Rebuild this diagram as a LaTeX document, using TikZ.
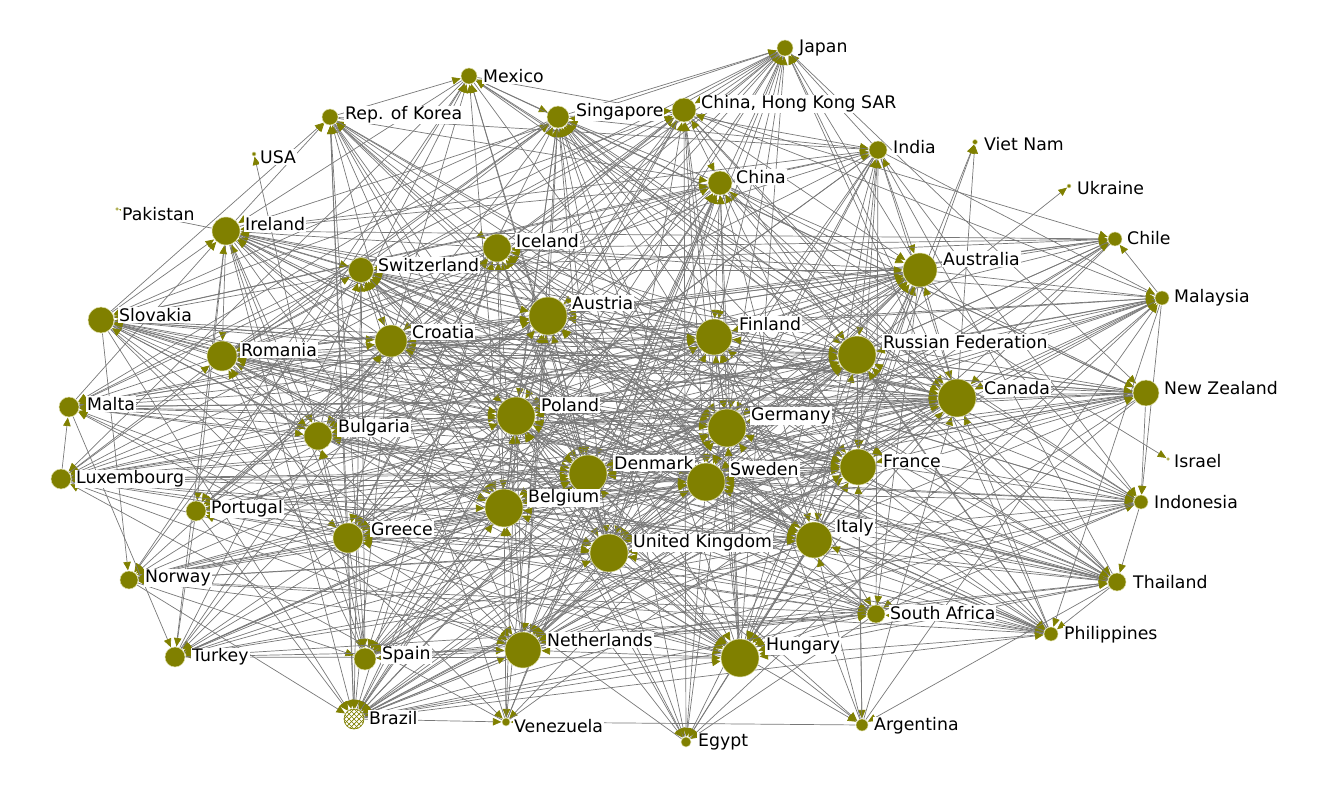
\documentclass[tikz,border=0pt]{standalone}
\usepackage{fontspec}
\setmainfont{DejaVu Sans}
\usetikzlibrary{arrows.meta}
\definecolor{nodecol}{RGB}{128,128,0}
\definecolor{edgecol}{RGB}{120,120,120}
\definecolor{ringcol}{RGB}{222,222,170}
\pgfdeclarelayer{edges}
\pgfsetlayers{edges,main}
\tikzset{
  vtx/.style={circle,fill=nodecol,draw=ringcol,line width=0.5pt,inner sep=0pt,outer sep=0.6pt},
  lbl/.style={anchor=west,fill=white,inner sep=1pt,font=\fontsize{17.3}{17}\selectfont,text=black},
  edge/.style={draw=edgecol,line width=0.7pt,-{Triangle[length=8.5pt,width=7.5pt,color=nodecol]}},
  hatch/.style={nodecol,line width=0.7pt},
}
\def\nodelist{jpn/785/48/8/798/48/Japan,
mex/469/76/8/482/76/Mexico,
kor/330/117/8/344/115/Rep. of Korea,
sgp/558/117/11/575/112/Singapore,
hkg/684/110/12/700/104/{China, Hong Kong SAR},
usa/254/154/2/259/157/USA,
ind/878/150/9/892/147/India,
vnm/975/142/2.5/983/144/Viet Nam,
chn/720/183/12/735/177/China,
ukr/1069/186/2/1076/188/Ukraine,
pak/117/209/1.5/121/214/Pakistan,
irl/226/231/14/244/224/Ireland,
isl/497/248/14/515/241/Iceland,
chl/1115/239/7/1126/238/Chile,
che/361/270/12.5/377/265/Switzerland,
aus/920/270/17/942/259/Australia,
mys/1162/298/7/1173/298/Malaysia,
svk/101/320/13/118/315/Slovakia,
aut/548/316/19/571/303/Austria,
fin/714/337/18/738/324/Finland,
hrv/391/341/16/411/332/Croatia,
rus/857/355/19/882/342/Russian Federation,
rou/222/356/15/240/350/Romania,
can/957/398/19/983/388/Canada,
nzl/1146/393/13/1163/388/New Zealand,
mlt/69/407/10/86/404/Malta,
pol/516/416/19/540/405/Poland,
deu/727/428/19/750/416/Germany,
bgr/318/436/14/337/428/Bulgaria,
isr/1168/459/1.5/1173/461/Israel,
fra/858/467/18/882/461/France,
dnk/588/474/19/613/463/Denmark,
swe/706/482/19/729/469/Sweden,
lux/61/479/10/75/479/Luxembourg,
idn/1141/502/7/1153/502/Indonesia,
bel/504/508/19/527/498/Belgium,
prt/196/511/10/210/509/Portugal,
grc/348/538/15/370/529/Greece,
ita/814/540/18/835/528/Italy,
gbr/609/553/19/632/543/United Kingdom,
nor/129/580/9/144/578/Norway,
tha/1117/582/9/1132/582/Thailand,
zaf/876/614/9/889/613/South Africa,
phl/1051/634/7/1063/635/Philippines,
nld/523/650/18/546/640/Netherlands,
hun/740/658/19/765/646/Hungary,
tur/175/657/10/191/657/Turkey,
esp/365/659/11/381/655/Spain,
bra/354/719/10/368/718/Brazil,
ven/506/722/4/513/726/Venezuela,
egy/686/742/5/697/742/Egypt,
arg/862/725/6/873/726/Argentina}
\def\wlist{jpn/0.59,mex/0.59,kor/0.59,sgp/0.71,hkg/0.75,ind/0.62,chn/0.75,irl/0.83,isl/0.83,chl/0.55,che/0.77,aus/0.92,mys/0.55,svk/0.78,aut/0.99,fin/0.96,hrv/0.89,rus/0.99,rou/0.86,can/0.99,nzl/0.78,mlt/0.68,pol/0.99,deu/0.99,bgr/0.83,fra/0.96,dnk/0.99,swe/0.99,lux/0.68,idn/0.55,bel/0.99,prt/0.68,grc/0.86,ita/0.96,gbr/0.99,nor/0.62,tha/0.62,zaf/0.62,phl/0.55,nld/0.96,hun/0.99,tur/0.68,esp/0.71,bra/0.68,ven/0.39,egy/0.45,arg/0.51}
\begin{document}
\begin{tikzpicture}[x=1pt,y=-1pt]
\useasboundingbox (0,0) rectangle (1341,810);
% nodes and labels
\foreach \n/\x/\y/\r/\lx/\ly/\t in \nodelist {
  \node[vtx,minimum size={2*\r*1pt}] (\n) at (\x,\y) {};
  \node[lbl] (\n-l) at (\lx,\ly) {\t};
}
% Brazil: cross-hatched node
\fill[white] (bra.center) circle[radius=10];
\begin{scope}
  \clip (bra.center) circle[radius=10];
  \foreach \k in {-5,...,5} {
    \draw[hatch,shift={(bra.center)}] (\k*5-12,-12) -- ++(24,24);
    \draw[hatch,shift={(bra.center)}] (\k*5+12,-12) -- ++(-24,24);
  }
\end{scope}
\draw[nodecol,line width=0.6pt] (bra.center) circle[radius=10];
% connectors
\pgfmathsetseed{11}
\begin{pgfonlayer}{edges}
\foreach \a/\wa [count=\i] in \wlist {
  \foreach \b/\wb [count=\j] in \wlist {
    \ifnum\j>\i
      \pgfmathtruncatemacro\hit{rnd<(\wa*\wb)}
      \pgfmathtruncatemacro\dir{rnd<0.5}
      \ifnum\hit=1
        \ifnum\dir=1
          \draw[edge] (\a) -- (\b);
        \else
          \draw[edge] (\b) -- (\a);
        \fi
      \fi
    \fi
  }
}
\draw[edge] (bgr) -- (usa);
\draw[edge] (irl) -- (pak);
\draw[edge] (ita) -- (vnm);
\draw[edge] (fra) -- (vnm);
\draw[edge] (can) -- (vnm);
\draw[edge] (rus) -- (ukr);
\draw[edge] (chn) -- (isr);
\end{pgfonlayer}
\end{tikzpicture}
\end{document}
